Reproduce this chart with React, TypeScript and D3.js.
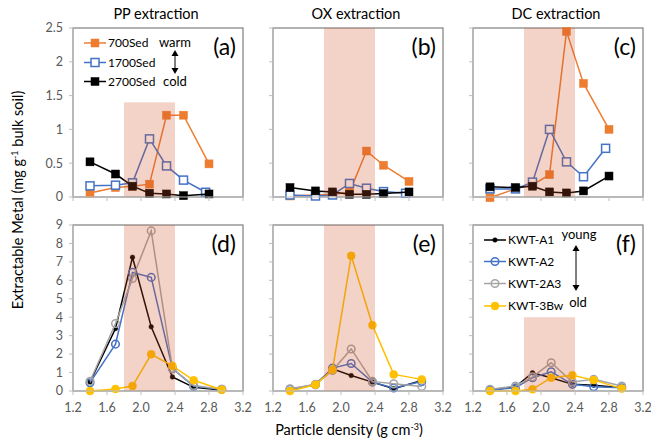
import React, { useRef, useEffect } from 'react';
import * as d3 from 'd3';

// particle density of each fraction (g cm-3)
const densityTop = [1.4, 1.7, 1.9, 2.1, 2.3, 2.5, 2.8];
const densityTop1700 = [1.4, 1.7, 1.9, 2.1, 2.3, 2.5, 2.76];
const densityBottom = [1.4, 1.7, 1.9, 2.12, 2.37, 2.62, 2.95];

const panelTitles = ['PP extraction', 'OX extraction', 'DC extraction'];
const panelLetters = ['(a)', '(b)', '(c)', '(d)', '(e)', '(f)'];
const sedNames = ['700Sed', '1700Sed', '2700Sed'];
const horizonNames = ['KWT-A1', 'KWT-A2', 'KWT-2A3', 'KWT-3Bw'];

const xTicks = [1.2, 1.6, 2.0, 2.4, 2.8, 3.2];
const yTicksTop = [0, 0.5, 1, 1.5, 2, 2.5];
const yTicksBottom = [0, 1, 2, 3, 4, 5, 6, 7, 8, 9];

// top row: sediments
const pp700 = [0.06, 0.14, 0.16, 0.19, 1.21, 1.21, 0.49];
const pp1700 = [0.165, 0.175, 0.21, 0.86, 0.46, 0.25, 0.07];
const pp2700 = [0.52, 0.34, 0.16, 0.055, 0.045, 0.02, 0.045];
const ox700 = [0.015, 0.03, 0.04, 0.07, 0.68, 0.47, 0.23];
const ox1700 = [0.03, 0.015, 0.03, 0.2, 0.13, 0.08, 0.055];
const ox2700 = [0.14, 0.09, 0.075, 0.04, 0.04, 0.05, 0.075];
const dc700 = [-0.01, 0.12, 0.18, 0.33, 2.45, 1.68, 1.0];
const dc1700 = [0.12, 0.12, 0.22, 1.0, 0.52, 0.3, 0.72];
const dc2700 = [0.15, 0.14, 0.16, 0.075, 0.06, 0.09, 0.31];

// bottom row: soil horizons
const ppA1 = [0.49, 3.39, 7.25, 3.48, 0.76, 0.2, 0.05];
const ppA2 = [0.45, 2.54, 6.43, 6.16, 1.21, 0.25, 0.09];
const pp2A3 = [0.53, 3.66, 6.1, 8.68, 1.21, 0.3, 0.09];
const pp3Bw = [0.0, 0.11, 0.27, 1.99, 1.36, 0.58, 0.07];
const oxA1 = [0.07, 0.36, 1.2, 0.84, 0.48, 0.13, 0.57];
const oxA2 = [0.09, 0.34, 1.24, 1.49, 0.48, 0.16, 0.52];
const ox2A3 = [0.12, 0.36, 1.11, 2.28, 0.52, 0.39, 0.25];
const ox3Bw = [0.0, 0.34, 1.15, 7.33, 3.57, 0.9, 0.63];
const dcA1 = [0.05, 0.23, 0.99, 0.72, 0.36, 0.31, 0.18];
const dcA2 = [0.05, 0.18, 0.72, 1.04, 0.36, 0.23, 0.18];
const dc2A3 = [0.09, 0.27, 0.77, 1.53, 0.49, 0.63, 0.27];
const dc3Bw = [0.0, 0.0, 0.09, 0.72, 0.85, 0.59, 0.13];

// shaded density window and its height in each panel
const shadeRange = [1.8, 2.4];
const shadeTop = [1.4, 2.5, 2.5, 9, 9, 4];

const FONT = 'Lato, "Open Sans", sans-serif';

type Style = { color: string; shape: 'square' | 'circle'; fill: boolean; r: number };
const topStyles: Style[] = [
  { color: '#ED7D31', shape: 'square', fill: true, r: 4 },
  { color: '#4472C4', shape: 'square', fill: false, r: 4 },
  { color: '#000000', shape: 'square', fill: true, r: 4 }
];
const bottomStyles: Style[] = [
  { color: '#000000', shape: 'circle', fill: true, r: 2.3 },
  { color: '#4472C4', shape: 'circle', fill: false, r: 4.4 },
  { color: '#A5A5A5', shape: 'circle', fill: false, r: 4.4 },
  { color: '#FFC000', shape: 'circle', fill: true, r: 4 }
];

export default function App(): JSX.Element {
  const svgRef = useRef<SVGSVGElement>(null);
  useEffect(() => {
    const el = svgRef.current;
    if (el == null) return;
    const svg = d3.select(el);
    svg.selectAll('*').remove();

    const colX = [73, 273, 473];
    const plotW = 170;
    const rows = [
      { top: 28, h: 169, max: 2.5, ticks: yTicksTop },
      { top: 225, h: 166, max: 9, ticks: yTicksBottom }
    ];

    const panelSeries = [
      [
        [densityTop, pp700],
        [densityTop1700, pp1700],
        [densityTop, pp2700]
      ],
      [
        [densityTop, ox700],
        [densityTop1700, ox1700],
        [densityTop, ox2700]
      ],
      [
        [densityTop, dc700],
        [densityTop1700, dc1700],
        [densityTop, dc2700]
      ],
      [
        [densityBottom, ppA1],
        [densityBottom, ppA2],
        [densityBottom, pp2A3],
        [densityBottom, pp3Bw]
      ],
      [
        [densityBottom, oxA1],
        [densityBottom, oxA2],
        [densityBottom, ox2A3],
        [densityBottom, ox3Bw]
      ],
      [
        [densityBottom, dcA1],
        [densityBottom, dcA2],
        [densityBottom, dc2A3],
        [densityBottom, dc3Bw]
      ]
    ];

    const drawMarker = (g: d3.Selection<SVGGElement, unknown, null, undefined>, cx: number, cy: number, s: Style) => {
      if (s.shape === 'square') {
        g.append('rect')
          .attr('x', cx - s.r)
          .attr('y', cy - s.r)
          .attr('width', s.r * 2)
          .attr('height', s.r * 2)
          .attr('fill', s.fill ? s.color : '#ffffff')
          .attr('stroke', s.color)
          .attr('stroke-width', s.fill ? 0.5 : 1.5);
      } else {
        g.append('circle')
          .attr('cx', cx)
          .attr('cy', cy)
          .attr('r', s.fill ? s.r : s.r - 0.6)
          .attr('fill', s.fill ? s.color : 'none')
          .attr('stroke', s.color)
          .attr('stroke-width', s.fill ? 0.5 : 1.5);
      }
    };

    for (let p = 0; p < 6; p++) {
      const row = rows[Math.floor(p / 3)];
      const col = p % 3;
      const left = colX[col];
      const x = d3.scaleLinear().domain([1.2, 3.2]).range([left, left + plotW]);
      const y = d3.scaleLinear().domain([0, row.max]).range([row.top + row.h, row.top]);
      const g = svg.append('g');
      const styles = p < 3 ? topStyles : bottomStyles;

      // plot frame
      g.append('rect')
        .attr('x', left)
        .attr('y', row.top)
        .attr('width', plotW)
        .attr('height', row.h)
        .attr('fill', '#ffffff')
        .attr('stroke', '#7F7F7F')
        .attr('stroke-width', 1.2);

      // series
      panelSeries[p].forEach(([xs, ys], i) => {
        const s = styles[i];
        const pts = xs.map((d, k) => [x(d), y(ys[k])] as [number, number]);
        g.append('path')
          .attr('d', d3.line()(pts))
          .attr('fill', 'none')
          .attr('stroke', s.color)
          .attr('stroke-width', 1.5);
        pts.forEach(([cx, cy]) => drawMarker(g, cx, cy, s));
      });

      // shaded density window (translucent, on top)
      g.append('rect')
        .attr('x', x(shadeRange[0]))
        .attr('y', y(shadeTop[p]))
        .attr('width', x(shadeRange[1]) - x(shadeRange[0]))
        .attr('height', y(0) - y(shadeTop[p]))
        .attr('fill', '#CF4F23')
        .attr('fill-opacity', 0.25);

      // axes lines
      g.append('line')
        .attr('x1', left)
        .attr('x2', left)
        .attr('y1', row.top)
        .attr('y2', row.top + row.h)
        .attr('stroke', '#BFBFBF')
        .attr('stroke-width', 1);
      g.append('line')
        .attr('x1', left)
        .attr('x2', left + plotW)
        .attr('y1', row.top + row.h)
        .attr('y2', row.top + row.h)
        .attr('stroke', '#BFBFBF')
        .attr('stroke-width', 1);

      // y ticks
      row.ticks.forEach((t) => {
        g.append('line')
          .attr('x1', left - 4)
          .attr('x2', left)
          .attr('y1', y(t))
          .attr('y2', y(t))
          .attr('stroke', '#BFBFBF');
        if (col === 0) {
          g.append('text')
            .attr('x', left - 10)
            .attr('y', y(t))
            .attr('dy', '0.35em')
            .attr('text-anchor', 'end')
            .attr('font-family', FONT)
            .attr('font-size', 12.5)
            .attr('fill', '#595959')
            .text(String(t));
        }
      });

      // x ticks
      xTicks.forEach((t) => {
        g.append('line')
          .attr('x1', x(t))
          .attr('x2', x(t))
          .attr('y1', row.top + row.h)
          .attr('y2', row.top + row.h + 4)
          .attr('stroke', '#BFBFBF');
        if (p >= 3) {
          g.append('text')
            .attr('x', x(t))
            .attr('y', row.top + row.h + 21)
            .attr('text-anchor', 'middle')
            .attr('font-family', FONT)
            .attr('font-size', 12.5)
            .attr('fill', '#595959')
            .text(d3.format('.1f')(t));
        }
      });

      // panel letter
      g.append('text')
        .attr('x', left + plotW - 7)
        .attr('y', row.top + 27)
        .attr('text-anchor', 'end')
        .attr('font-family', FONT)
        .attr('font-size', 23)
        .attr('fill', '#000000')
        .text(panelLetters[p]);

      if (p < 3) {
        g.append('text')
          .attr('x', left + plotW / 2 - 2)
          .attr('y', 18.5)
          .attr('text-anchor', 'middle')
          .attr('font-family', FONT)
          .attr('font-size', 14.5)
          .attr('fill', '#000000')
          .text(panelTitles[p]);
      }
    }

    // legends
    const legend = (names: string[], styles: Style[], lx: number, ys: number[]) => {
      const g = svg.append('g');
      names.forEach((n, i) => {
        g.append('line')
          .attr('x1', lx)
          .attr('x2', lx + 22)
          .attr('y1', ys[i])
          .attr('y2', ys[i])
          .attr('stroke', styles[i].color)
          .attr('stroke-width', 1.5);
        drawMarker(g, lx + 11, ys[i], styles[i]);
        g.append('text')
          .attr('x', lx + 24)
          .attr('y', ys[i])
          .attr('dy', '0.35em')
          .attr('font-family', FONT)
          .attr('font-size', 12)
          .attr('fill', '#000000')
          .text(n);
      });
    };
    legend(sedNames, topStyles, 84, [43, 62.5, 81.5]);
    legend(horizonNames, bottomStyles, 484, [240, 261.5, 283.5, 306]);

    // double arrows
    const arrow = (ax: number, y1: number, y2: number) => {
      const g = svg.append('g');
      g.append('line')
        .attr('x1', ax)
        .attr('x2', ax)
        .attr('y1', y1 + 4)
        .attr('y2', y2 - 4)
        .attr('stroke', '#000000')
        .attr('stroke-width', 1);
      g.append('path')
        .attr('d', `M${ax - 3.5},${y1 + 6}L${ax},${y1}L${ax + 3.5},${y1 + 6}Z`)
        .attr('fill', '#000000');
      g.append('path')
        .attr('d', `M${ax - 3.5},${y2 - 6}L${ax},${y2}L${ax + 3.5},${y2 - 6}Z`)
        .attr('fill', '#000000');
    };
    const note = (tx: number, ty: number, s: string) =>
      svg
        .append('text')
        .attr('x', tx)
        .attr('y', ty)
        .attr('dy', '0.35em')
        .attr('text-anchor', 'middle')
        .attr('font-family', FONT)
        .attr('font-size', 13)
        .attr('fill', '#000000')
        .text(s);
    note(175, 42, 'warm');
    arrow(175, 50, 74);
    note(175, 81, 'cold');
    note(579, 234, 'young');
    arrow(576, 245, 291);
    note(578, 302, 'old');

    // axis titles
    const yt = svg
      .append('text')
      .attr('transform', 'translate(23,200) rotate(-90)')
      .attr('text-anchor', 'middle')
      .attr('font-family', FONT)
      .attr('font-size', 14.5)
      .attr('fill', '#000000');
    yt.append('tspan').text('Extractable Metal (mg g');
    yt.append('tspan').attr('dy', -5).attr('font-size', 9).text('-1');
    yt.append('tspan').attr('dy', 5).text(' bulk soil)');

    const xt = svg
      .append('text')
      .attr('x', 349)
      .attr('y', 435)
      .attr('text-anchor', 'middle')
      .attr('font-family', FONT)
      .attr('font-size', 14.5)
      .attr('fill', '#000000');
    xt.append('tspan').text('Particle density (g cm');
    xt.append('tspan').attr('dy', -5).attr('font-size', 9).text('-3');
    xt.append('tspan').attr('dy', 5).text(')');
  }, []);
  return (
    <svg
      ref={svgRef}
      width={651}
      height={441}
      style={{ position: 'absolute', left: 0, top: 0, background: '#ffffff' }}
    />
  );
}
